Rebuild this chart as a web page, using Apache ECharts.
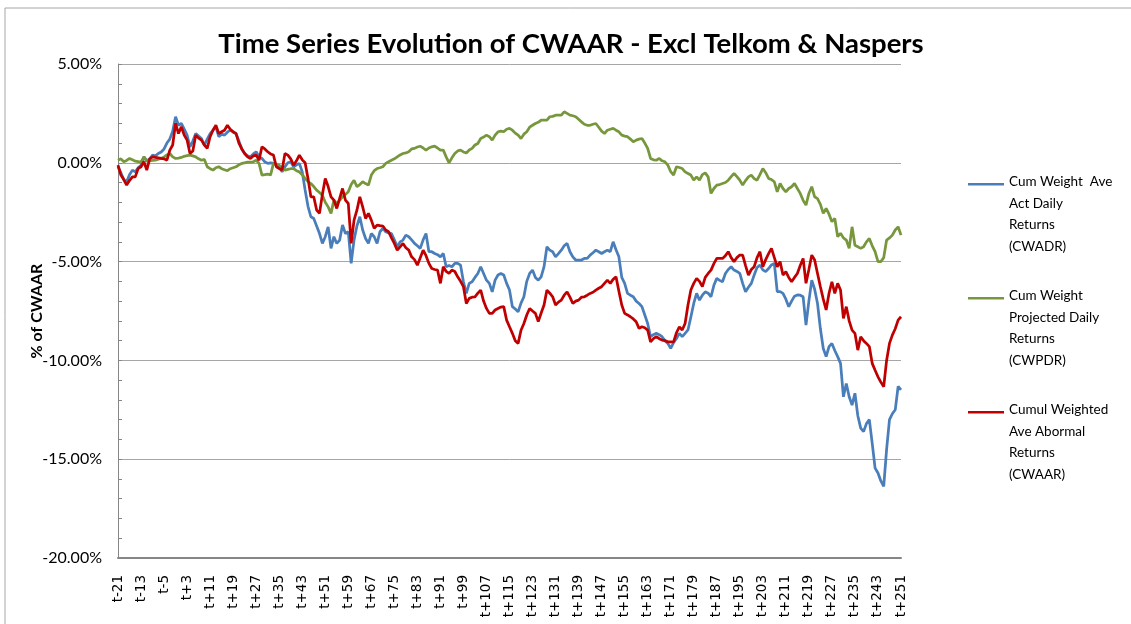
<!DOCTYPE html>
<html>
<head>
<meta charset="utf-8">
<script src="https://cdn.jsdelivr.net/npm/echarts@6/dist/echarts.min.js"></script>
<style>
    html, body { margin: 0; padding: 0; background: #fff; }
    #main { width: 1131px; height: 624px; }
</style>
</head>
<body>
<div id="main"></div>
<script>
// event window: t-21 .. t+251
var dayFrom = -21;
var dayTo = 251;

var seriesNames = [
    'Cum Weight  Ave\nAct Daily\nReturns\n(CWADR)',
    'Cum Weight\nProjected Daily\nReturns\n(CWPDR)',
    'Cumul Weighted\nAve Abormal\nReturns\n(CWAAR)'
];

var yTicks = [-20, -15, -10, -5, 0, 5];

// CWADR, %
var cwadr = [
    -0.20, -0.50, -0.85, -0.96, -0.60, -0.37, -0.46, -0.25, -0.12, 0.30,
    0.10, 0.20, 0.39, 0.35, 0.47, 0.55, 0.70, 1.00, 1.20, 1.60,
    2.33, 1.90, 2.00, 1.70, 1.40, 0.80, 1.10, 1.48, 1.35, 1.23,
    0.89, 1.20, 1.48, 1.65, 1.82, 1.32, 1.45, 1.40, 1.55, 1.65,
    1.55, 1.48, 1.10, 0.70, 0.47, 0.35, 0.30, 0.45, 0.56, 0.30,
    0.22, 0.05, -0.03, 0.00, -0.03, -0.10, -0.20, -0.46, -0.20, 0.00,
    0.05, -0.20, -0.10, -0.03, -0.46, -1.38, -2.20, -2.73, -2.82, -3.20,
    -3.58, -4.08, -3.74, -3.24, -4.33, -3.74, -4.08, -3.91, -3.15, -3.58,
    -3.49, -5.09, -3.90, -3.20, -2.73, -3.40, -3.83, -4.08, -3.58, -3.74,
    -4.08, -3.49, -3.32, -3.49, -3.55, -3.58, -3.90, -4.25, -4.00, -3.91,
    -3.66, -3.74, -3.90, -4.08, -4.20, -4.33, -3.90, -3.58, -4.50, -4.50,
    -4.59, -4.65, -4.76, -4.59, -5.26, -5.20, -5.26, -5.09, -5.09, -5.18,
    -6.02, -6.61, -6.10, -6.02, -5.80, -5.60, -5.26, -5.60, -5.94, -6.10,
    -6.53, -5.94, -5.68, -5.60, -5.68, -6.10, -6.44, -7.28, -7.40, -7.54,
    -7.10, -6.78, -6.00, -5.60, -5.43, -5.80, -5.94, -5.77, -5.26, -4.25,
    -4.42, -4.50, -4.76, -4.60, -4.42, -4.20, -4.08, -4.50, -4.76, -4.92,
    -4.92, -4.92, -4.84, -4.84, -4.67, -4.55, -4.42, -4.50, -4.59, -4.50,
    -4.42, -4.50, -4.00, -4.40, -4.76, -5.80, -6.10, -6.61, -6.70, -6.78,
    -7.00, -7.12, -7.28, -7.70, -8.13, -8.80, -8.70, -8.63, -8.70, -8.80,
    -9.00, -9.14, -9.39, -9.10, -8.89, -8.63, -8.80, -8.63, -8.46, -7.80,
    -7.12, -6.61, -6.95, -6.70, -6.53, -6.60, -6.78, -6.20, -5.85, -5.95,
    -6.02, -5.60, -5.40, -5.26, -5.43, -5.50, -5.60, -6.10, -6.53, -6.30,
    -6.10, -5.68, -5.30, -5.18, -5.42, -5.51, -5.35, -5.17, -5.09, -6.52,
    -6.52, -6.61, -6.90, -7.28, -7.00, -6.75, -6.69, -6.70, -6.78, -8.21,
    -7.00, -5.94, -6.40, -7.12, -8.40, -9.40, -9.81, -9.30, -9.14, -9.50,
    -9.81, -10.15, -11.84, -11.17, -11.84, -12.26, -11.66, -12.80, -13.43, -13.60,
    -13.20, -13.00, -14.20, -15.45, -15.70, -16.10, -16.38, -14.50, -13.00, -12.70,
    -12.50, -11.32, -11.49
];

// CWPDR, %
var cwpdr = [
    0.13, 0.20, 0.05, 0.12, 0.22, 0.15, 0.08, 0.06, 0.03, 0.30,
    0.08, 0.10, 0.12, 0.13, 0.18, 0.22, 0.30, 0.40, 0.47, 0.30,
    0.22, 0.24, 0.27, 0.33, 0.36, 0.39, 0.35, 0.30, 0.20, 0.13,
    0.17, -0.20, -0.30, -0.37, -0.25, -0.20, -0.30, -0.35, -0.40, -0.30,
    -0.25, -0.20, -0.10, -0.03, 0.00, 0.03, 0.04, 0.05, 0.13, -0.03,
    -0.62, -0.60, -0.57, -0.62, -0.03, -0.08, -0.12, -0.25, -0.37, -0.33,
    -0.30, -0.29, -0.40, -0.46, -0.60, -0.80, -0.95, -1.05, -1.20, -1.38,
    -1.50, -1.64, -2.00, -2.23, -2.56, -1.89, -2.06, -1.90, -1.72, -1.60,
    -1.47, -1.10, -0.88, -1.21, -1.10, -0.96, -1.05, -1.13, -0.62, -0.40,
    -0.29, -0.25, -0.20, -0.03, 0.05, 0.13, 0.20, 0.30, 0.40, 0.47,
    0.50, 0.56, 0.70, 0.73, 0.80, 0.84, 0.75, 0.64, 0.75, 0.81,
    0.84, 0.75, 0.64, 0.64, 0.30, 0.00, 0.25, 0.47, 0.60, 0.64,
    0.55, 0.50, 0.65, 0.73, 0.90, 0.98, 1.23, 1.30, 1.40, 1.32,
    1.15, 1.40, 1.57, 1.60, 1.57, 1.70, 1.74, 1.65, 1.50, 1.40,
    1.23, 1.45, 1.57, 1.80, 1.90, 1.99, 2.05, 2.16, 2.16, 2.16,
    2.33, 2.35, 2.41, 2.41, 2.41, 2.58, 2.50, 2.41, 2.38, 2.33,
    2.20, 2.07, 1.95, 1.90, 1.90, 1.95, 1.99, 1.80, 1.60, 1.48,
    1.65, 1.70, 1.74, 1.65, 1.57, 1.40, 1.35, 1.32, 1.20, 1.06,
    1.15, 1.20, 1.23, 1.00, 0.73, 0.22, 0.15, 0.13, 0.22, 0.10,
    0.05, -0.12, -0.45, -0.62, -0.20, -0.24, -0.29, -0.46, -0.54, -0.62,
    -0.88, -0.71, -0.88, -0.60, -0.51, -0.71, -1.55, -1.30, -1.13, -1.10,
    -1.05, -1.00, -0.88, -0.70, -0.54, -0.70, -0.88, -1.13, -0.90, -0.71,
    -0.62, -0.80, -0.88, -0.60, -0.29, -0.50, -0.79, -0.85, -0.96, -1.47,
    -1.05, -1.30, -1.47, -1.30, -1.21, -1.05, -1.30, -1.55, -1.90, -2.14,
    -1.55, -1.21, -1.72, -1.81, -2.10, -2.56, -2.31, -2.60, -2.98, -2.82,
    -3.74, -3.57, -3.80, -3.91, -4.33, -3.24, -4.17, -4.25, -4.33, -4.25,
    -4.00, -3.83, -4.20, -4.50, -5.00, -5.00, -4.80, -3.91, -3.80, -3.66,
    -3.40, -3.24, -3.66
];

// CWAAR, %
var cwaar = [
    -0.12, -0.62, -0.85, -1.13, -0.90, -0.71, -0.71, -0.29, -0.20, 0.05,
    -0.37, 0.20, 0.30, 0.27, 0.25, 0.22, 0.20, 0.13, 0.64, 0.90,
    2.00, 1.48, 1.82, 1.40, 1.15, 0.47, 0.60, 1.40, 1.25, 1.15,
    0.90, 0.73, 1.32, 1.65, 1.90, 1.48, 1.57, 1.65, 1.90, 1.70,
    1.57, 1.48, 1.00, 0.70, 0.47, 0.30, 0.22, 0.35, 0.39, 0.13,
    0.81, 0.70, 0.56, 0.45, 0.39, -0.20, -0.29, -0.37, 0.47, 0.39,
    0.20, -0.12, 0.10, 0.39, 0.15, 0.00, -0.79, -1.72, -1.72, -2.39,
    -2.56, -1.60, -0.79, -1.20, -1.72, -1.89, -2.31, -1.80, -1.30, -1.89,
    -2.06, -4.08, -2.90, -2.40, -1.72, -2.23, -2.82, -2.56, -2.90, -3.32,
    -3.15, -3.18, -3.20, -3.40, -3.49, -3.80, -4.08, -4.42, -4.25, -4.08,
    -4.30, -4.42, -4.76, -4.90, -5.18, -4.80, -4.42, -4.70, -5.09, -5.35,
    -5.40, -5.43, -6.10, -5.26, -5.50, -5.60, -5.43, -5.50, -5.77, -6.00,
    -6.27, -7.12, -6.86, -6.80, -6.78, -6.60, -6.44, -7.00, -7.37, -7.62,
    -7.62, -7.45, -7.37, -7.30, -7.28, -7.96, -8.30, -8.63, -9.00, -9.14,
    -8.47, -8.13, -7.70, -7.37, -7.50, -7.62, -8.04, -7.60, -7.20, -6.44,
    -6.60, -6.78, -7.20, -7.05, -6.95, -6.70, -6.53, -6.80, -7.12, -7.00,
    -6.95, -6.80, -6.78, -6.70, -6.61, -6.55, -6.44, -6.35, -6.27, -6.10,
    -5.94, -6.10, -5.90, -5.77, -6.50, -7.20, -7.62, -7.70, -7.79, -7.90,
    -8.04, -8.38, -8.30, -8.35, -8.47, -9.06, -8.90, -8.80, -8.90, -8.97,
    -9.00, -9.06, -9.06, -9.06, -8.60, -8.30, -8.46, -8.13, -7.20, -6.44,
    -6.10, -5.85, -6.00, -6.27, -5.80, -5.60, -5.43, -5.10, -4.84, -4.84,
    -4.84, -4.70, -4.50, -4.80, -5.00, -4.80, -4.67, -4.67, -5.20, -5.68,
    -5.40, -5.26, -4.80, -4.50, -5.26, -4.90, -4.60, -4.33, -4.80, -5.26,
    -5.00, -5.68, -5.51, -5.80, -6.02, -5.80, -5.60, -5.20, -4.84, -6.10,
    -5.40, -4.67, -4.92, -5.60, -6.27, -6.90, -7.45, -6.60, -6.02, -6.61,
    -6.10, -6.44, -7.87, -7.28, -8.00, -8.47, -8.63, -9.48, -8.80, -9.00,
    -9.14, -9.30, -10.15, -10.50, -10.83, -11.10, -11.33, -10.00, -9.14, -8.72,
    -8.40, -7.96, -7.79
];

var days = [];
for (var d = dayFrom; d <= dayTo; d++) {
    days.push(d < 0 ? 't' + d : 't+' + d);
}

var colors = ['#4a7ebb', '#77973d', '#c00000'];
var legendIconY = [183, 297, 411];
var font = 'Lato';

// legend line sits on the first text line, not in the middle of the block
var legendIcon = 'path://M0,0L36,0L36,2.5L0,2.5ZM0,62';

var myChart = echarts.init(document.getElementById('main'));

var legends = seriesNames.map(function (name, i) {
    return {
        data: [name],
        left: 968,
        top: legendIconY[i] - 12,
        padding: 0,
        icon: legendIcon,
        itemWidth: 36,
        itemHeight: 62,
        selectedMode: false,
        textStyle: {
            fontFamily: font,
            fontSize: 13.5,
            color: '#000',
            lineHeight: 21.5
        }
    };
});

myChart.setOption({
    animation: false,
    color: colors,
    title: {
        text: 'Time Series Evolution of CWAAR - Excl Telkom & Naspers',
        left: 566,
        textAlign: 'center',
        top: 25,
        textStyle: {
            fontFamily: font,
            fontWeight: 'bold',
            fontSize: 27.5,
            color: '#000'
        }
    },
    legend: legends,
    graphic: [{
        type: 'rect',
        shape: { x: 5, y: 8, width: 1200, height: 700 },
        style: { fill: 'none', stroke: '#a6a6a6', lineWidth: 1 },
        silent: true
    }],
    grid: {
        left: 118,
        right: 230,
        top: 64,
        bottom: 66
    },
    xAxis: [{
        type: 'category',
        data: days,
        boundaryGap: false,
        axisLine: { show: false },
        axisTick: { show: false },
        axisLabel: {
            interval: 7,
            rotate: 90,
            margin: 17,
            fontFamily: 'DejaVu Sans',
            fontSize: 13.5,
            color: '#000'
        }
    }, {
        type: 'category',
        data: days,
        boundaryGap: false,
        position: 'bottom',
        axisLine: { onZero: true, lineStyle: { color: '#868686', width: 2 } },
        axisTick: { show: false },
        axisLabel: { show: false }
    }],
    yAxis: {
        type: 'value',
        min: yTicks[0],
        max: yTicks[yTicks.length - 1],
        interval: 5,
        name: '% of CWAAR',
        nameLocation: 'middle',
        nameGap: 73,
        nameMoveOverlap: false,
        nameTextStyle: {
            fontFamily: font,
            fontWeight: 'bold',
            fontSize: 16,
            color: '#000'
        },
        axisLine: { show: true, lineStyle: { color: '#868686' } },
        axisTick: { show: true, inside: true, length: 4, lineStyle: { color: '#868686' } },
        minorTick: { show: true, splitNumber: 5, length: 4, lineStyle: { color: '#868686' } },
        splitLine: { show: true, lineStyle: { color: '#a6a6a6', width: 1 } },
        axisLabel: {
            margin: 16,
            fontFamily: font,
            fontSize: 16,
            color: '#000',
            formatter: function (v) {
                return v.toFixed(2) + '%';
            }
        }
    },
    series: [cwadr, cwpdr, cwaar].map(function (values, i) {
        return {
            name: seriesNames[i],
            type: 'line',
            data: values,
            symbol: 'none',
            lineStyle: { width: 2.75, color: colors[i] },
            itemStyle: { color: colors[i] }
        };
    })
});
</script>
</body>
</html>
